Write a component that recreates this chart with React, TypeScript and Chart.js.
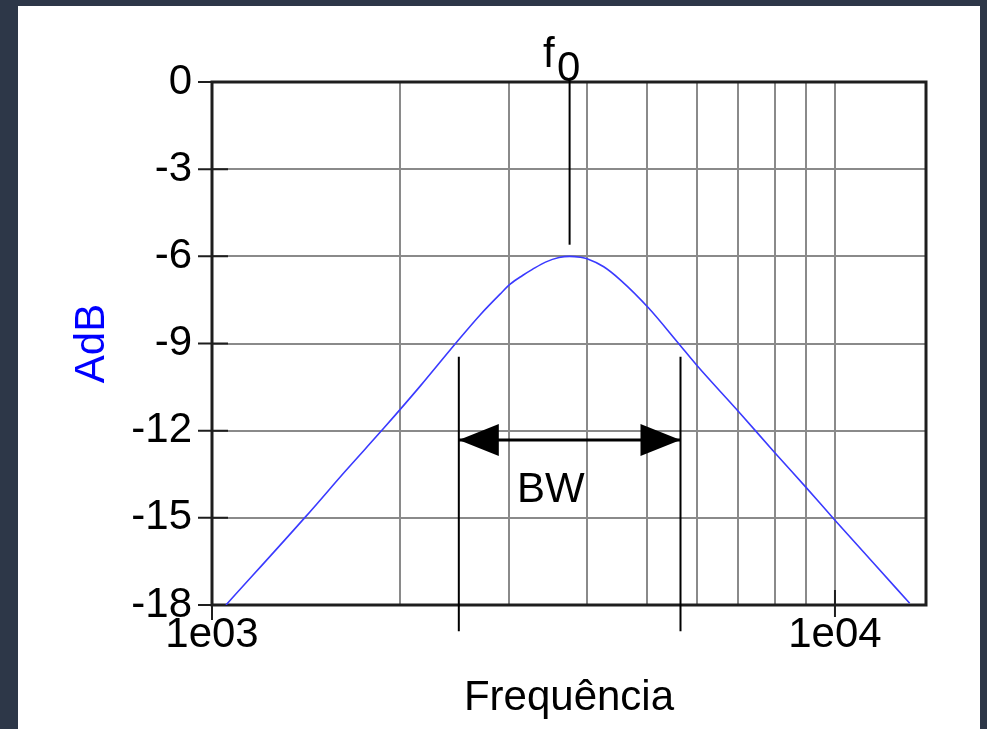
import { useEffect, useRef } from 'react';
import { Chart, registerables } from 'chart.js';

Chart.register(...registerables);

// ---- data ----
const freqHz = [1053, 1415, 1639, 1886, 2162, 2460, 2698, 2900, 3014, 3151, 3268, 3430, 3606, 3750, 3900, 4000, 4254, 4522, 5022, 5610, 6000, 7000, 8000, 9000, 10000, 11500, 13180];
const gainDb = [-18, -14.95, -13.38, -11.92, -10.45, -9.0, -8.0, -7.3, -6.95, -6.66, -6.45, -6.2, -6.04, -6.0, -6.03, -6.08, -6.36, -6.81, -7.78, -9.0, -9.75, -11.34, -12.75, -13.97, -15.08, -16.53, -17.94];

const xTickValues = [1000, 2000, 3000, 4000, 5000, 6000, 7000, 8000, 9000, 10000];
const xTickLabels = ['1e03', '', '', '', '', '', '', '', '', '1e04'];
const xMajorTicks = [1000, 10000];
const yTickValues = [0, -3, -6, -9, -12, -15, -18];
const X_MIN = 1000;
const X_MAX = 14000;
const Y_MIN = -18;
const Y_MAX = 0;

// annotation values
const F0 = 3750;
const F0_LINE_BOTTOM = -5.6;
const BW_LOW = 2490;
const BW_HIGH = 5650;
const BW_LINE_TOP = -9.46;
const BW_LINE_BOTTOM = -18.9;
const BW_ARROW_Y = -12.32;
const BW_LABEL_X = 3500;
const BW_LABEL_Y = -14.05;

const FONT = "'Liberation Sans', Arial, sans-serif";
const BG = '#2d3748';
const GRID = '#8a8a8a';
const FRAME = '#1e1e1e';

const annotPlugin = {
  id: 'annot',
  beforeDatasetsDraw(chart: any) {
    const { ctx, chartArea: a, scales } = chart;
    const x = scales.x;
    const y = scales.y;
    ctx.save();
    ctx.strokeStyle = FRAME;
    ctx.lineWidth = 3;
    ctx.strokeRect(a.left, a.top, a.right - a.left, a.bottom - a.top);
    ctx.lineWidth = 2;
    ctx.beginPath();
    yTickValues.forEach((v) => {
      const py = y.getPixelForValue(v);
      ctx.moveTo(a.left - 14, py);
      ctx.lineTo(a.left + 16, py);
    });
    xMajorTicks.forEach((v, i) => {
      const px = x.getPixelForValue(v);
      if (i === 0) {
        ctx.moveTo(px, a.bottom);
        ctx.lineTo(px, a.bottom + 15);
      } else {
        ctx.moveTo(px, a.bottom - 15);
        ctx.lineTo(px, a.bottom + 12);
      }
    });
    ctx.stroke();
    ctx.restore();
  },
  afterDatasetsDraw(chart: any) {
    const { ctx, scales } = chart;
    const x = scales.x;
    const y = scales.y;
    ctx.save();
    ctx.strokeStyle = '#000';
    ctx.fillStyle = '#000';
    // f0 marker line
    const xf = x.getPixelForValue(F0);
    ctx.lineWidth = 2;
    ctx.beginPath();
    ctx.moveTo(xf, y.getPixelForValue(Y_MAX) - 2);
    ctx.lineTo(xf, y.getPixelForValue(F0_LINE_BOTTOM));
    ctx.stroke();
    // BW vertical lines
    const xl = x.getPixelForValue(BW_LOW);
    const xr = x.getPixelForValue(BW_HIGH);
    const yt = y.getPixelForValue(BW_LINE_TOP);
    const yb = y.getPixelForValue(BW_LINE_BOTTOM);
    ctx.beginPath();
    ctx.moveTo(xl, yt);
    ctx.lineTo(xl, yb);
    ctx.moveTo(xr, yt);
    ctx.lineTo(xr, yb);
    ctx.stroke();
    // arrow
    const ya = y.getPixelForValue(BW_ARROW_Y);
    ctx.lineWidth = 3;
    ctx.beginPath();
    ctx.moveTo(xl, ya);
    ctx.lineTo(xr, ya);
    ctx.stroke();
    const headLen = 40;
    const headHalf = 16;
    ctx.beginPath();
    ctx.moveTo(xl, ya);
    ctx.lineTo(xl + headLen, ya - headHalf);
    ctx.lineTo(xl + headLen, ya + headHalf);
    ctx.closePath();
    ctx.fill();
    ctx.beginPath();
    ctx.moveTo(xr, ya);
    ctx.lineTo(xr - headLen, ya - headHalf);
    ctx.lineTo(xr - headLen, ya + headHalf);
    ctx.closePath();
    ctx.fill();
    // texts
    ctx.font = `42px ${FONT}`;
    ctx.textAlign = 'center';
    ctx.textBaseline = 'middle';
    ctx.fillText('BW', x.getPixelForValue(BW_LABEL_X), y.getPixelForValue(BW_LABEL_Y));
    ctx.textBaseline = 'alphabetic';
    const yTop = y.getPixelForValue(Y_MAX);
    ctx.fillText('0', xf - 1, yTop - 1);
    ctx.textAlign = 'right';
    ctx.fillText('f', xf - 15, yTop - 15);
    ctx.restore();
  },
};

export default function App() {
  const ref = useRef<HTMLCanvasElement>(null);
  useEffect(() => {
    if (!ref.current) return;
    const points = freqHz.map((f, i) => ({ x: f, y: gainDb[i] }));
    const chart = new Chart(ref.current, {
      type: 'line',
      data: {
        datasets: [
          {
            data: points,
            borderColor: '#3a3aff',
            borderWidth: 1.6,
            pointRadius: 0,
            fill: false,
            cubicInterpolationMode: 'monotone',
          },
        ],
      },
      options: {
        responsive: false,
        animation: false,
        devicePixelRatio: 1,
        layout: { padding: { top: 76, right: 54, left: 0, bottom: 0 } },
        plugins: { legend: { display: false }, tooltip: { enabled: false } },
        scales: {
          x: {
            type: 'logarithmic',
            min: X_MIN,
            max: X_MAX,
            afterBuildTicks: (s: any) => {
              s.ticks = xTickValues.map((v) => ({ value: v }));
            },
            afterFit: (s: any) => {
              s.height = 124;
            },
            ticks: {
              autoSkip: false,
              maxRotation: 0,
              minRotation: 0,
              padding: 5,
              color: '#000',
              font: { family: FONT, size: 42 },
              callback: (v: any) => {
                const i = xTickValues.indexOf(Number(v));
                return i >= 0 ? xTickLabels[i] : '';
              },
            },
            grid: { color: GRID, lineWidth: 2, drawTicks: false },
            border: { display: false },
            title: {
              display: true,
              text: 'Frequência',
              color: '#000',
              font: { family: FONT, size: 42 },
              padding: { top: 0, bottom: 5 },
            },
          },
          y: {
            type: 'linear',
            min: Y_MIN,
            max: Y_MAX,
            afterBuildTicks: (s: any) => {
              s.ticks = yTickValues.map((v) => ({ value: v }));
            },
            afterFit: (s: any) => {
              s.width = 194;
            },
            ticks: {
              padding: 20,
              color: '#000',
              font: { family: FONT, size: 42 },
            },
            grid: { color: GRID, lineWidth: 2, drawTicks: false },
            border: { display: false },
            title: {
              display: true,
              text: 'AdB',
              color: '#0000ff',
              font: { family: FONT, size: 42 },
              padding: { top: 49, bottom: 0 },
            },
          },
        },
      },
      plugins: [annotPlugin],
    } as any);
    return () => chart.destroy();
  }, []);
  return (
    <div style={{ position: 'fixed', inset: 0, background: BG }}>
      <div style={{ position: 'absolute', left: 18, top: 6, width: 962, height: 723, background: '#fff' }}>
        <canvas ref={ref} width={962} height={723} style={{ display: 'block', width: 962, height: 723 }} />
      </div>
    </div>
  );
}
